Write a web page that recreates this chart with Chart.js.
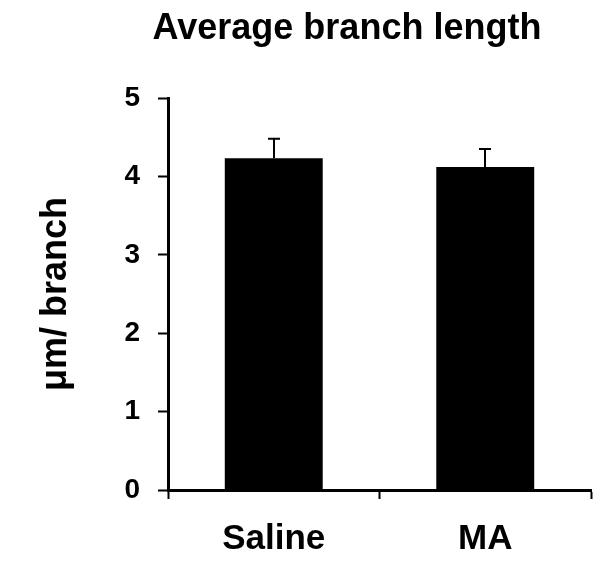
<!DOCTYPE html>
<html>
<head>
<meta charset="utf-8">
<script src="https://cdn.jsdelivr.net/npm/chart.js@4/dist/chart.umd.min.js"></script>
<style>
html,body{margin:0;padding:0;background:#fff;}
#wrap{width:597px;height:561px;}
</style>
</head>
<body>
<div id="wrap"><canvas id="c" width="597" height="561"></canvas></div>
<script>
const chartTitle = 'Average branch length';
const yAxisTitle = 'μm/ branch';
const categories = ['Saline', 'MA'];
const means = [4.23, 4.12];
const errorsUp = [0.25, 0.23];
const yMin = 0, yMax = 5, yStep = 1;

const FONT = '"Liberation Sans", Arial, Helvetica, sans-serif';

const errorBarPlugin = {
  id: 'errorBars',
  afterDatasetsDraw(chart) {
    const meta = chart.getDatasetMeta(0);
    const y = chart.scales.y;
    const ctx = chart.ctx;
    ctx.save();
    ctx.strokeStyle = '#000';
    ctx.lineWidth = 2;
    meta.data.forEach((bar, i) => {
      const x = Math.round(bar.x);
      const yTop = y.getPixelForValue(means[i] + errorsUp[i]);
      const yBase = y.getPixelForValue(means[i]);
      ctx.beginPath();
      ctx.moveTo(x, yBase);
      ctx.lineTo(x, yTop);
      ctx.moveTo(x - 6, yTop);
      ctx.lineTo(x + 6, yTop);
      ctx.stroke();
    });
    ctx.restore();
  }
};

const titlePlugin = {
  id: 'customTitle',
  afterDraw(chart) {
    const ctx = chart.ctx;
    ctx.save();
    ctx.fillStyle = '#000';
    ctx.font = 'bold 36px ' + FONT;
    ctx.textAlign = 'center';
    ctx.textBaseline = 'alphabetic';
    ctx.fillText(chartTitle, 347, 39);
    ctx.restore();
  }
};

new Chart(document.getElementById('c'), {
  type: 'bar',
  data: {
    labels: categories,
    datasets: [{
      data: means,
      backgroundColor: '#000',
      borderWidth: 0,
      categoryPercentage: 1.0,
      barPercentage: 0.463
    }]
  },
  options: {
    responsive: false,
    devicePixelRatio: 1,
    animation: false,
    layout: { padding: { top: 98, right: 6, left: 0, bottom: 0 } },
    plugins: { legend: { display: false }, tooltip: { enabled: false }, title: { display: false } },
    scales: {
      y: {
        min: yMin, max: yMax,
        ticks: { stepSize: yStep, color: '#000', font: { family: FONT, size: 28, weight: 'bold' }, padding: 18 },
        grid: { drawOnChartArea: false, drawTicks: true, tickLength: 10, tickWidth: 2, tickColor: '#000' },
        border: { display: true, color: '#000', width: 3 },
        title: { display: true, text: yAxisTitle, color: '#000', font: { family: FONT, size: 36, weight: 'bold' }, padding: { top: 34, bottom: 0 } },
        afterFit(scale) { scale.width = 168; }
      },
      x: {
        ticks: { color: '#000', font: { family: FONT, size: 35, weight: 'bold' }, padding: 19 },
        grid: { offset: true, drawOnChartArea: false, drawTicks: true, tickLength: 9, tickWidth: 2, tickColor: '#000' },
        border: { display: true, color: '#000', width: 3 },
        afterFit(scale) { scale.height = 71; }
      }
    }
  },
  plugins: [errorBarPlugin, titlePlugin]
});
</script>
</body>
</html>
